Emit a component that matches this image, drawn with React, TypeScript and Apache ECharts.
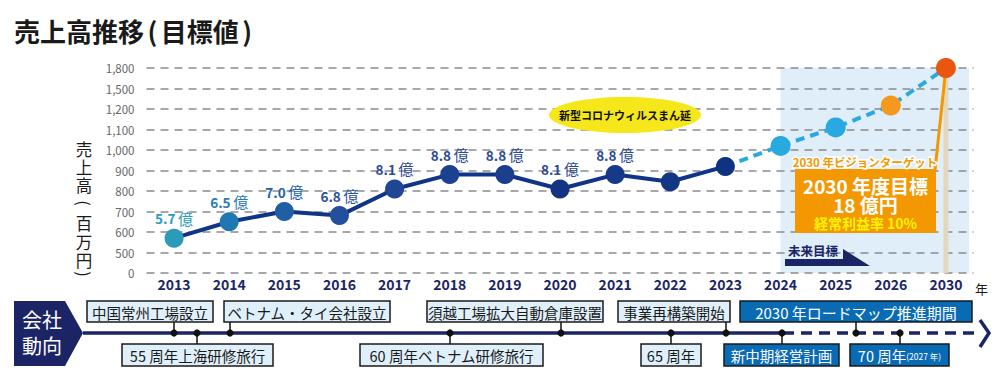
import { useEffect, useRef } from 'react';
import * as echarts from 'echarts';

const FONT = '"Noto Sans CJK JP", "Noto Sans", sans-serif';

const years = ['2013', '2014', '2015', '2016', '2017', '2018', '2019', '2020', '2021', '2022', '2023', '2024', '2025', '2026', '2030'];
// actual sales (million yen) 2013-2023
const actualSales = [570, 650, 700, 680, 810, 880, 880, 810, 880, 845, 920];
const labeledCount = 9; // first 9 points carry a "x.x 億" label
// target sales 2024, 2025, 2026, 2030
const targetSales = [1020, 1110, 1250, 1800];
const yTickValues = [0, 500, 600, 700, 800, 900, 1000, 1100, 1200, 1500, 1800];
const yTickLabels = ['0', '500', '600', '700', '800', '900', '1,000', '1,100', '1,200', '1,500', '1,800'];
const yAxisNameChars = ['売', '上', '高', '(', '百', '万', '円', ')'];

const eventsTop = ['中国常州工場設立', 'ベトナム・タイ会社設立', '須越工場拡大自動倉庫設置', '事業再構築開始', '2030 年ロードマップ推進期間'];
const eventsBottom = ['55 周年上海研修旅行', '60 周年ベトナム研修旅行', '65 周年', '新中期経営計画', '70 周年{s|(2027 年)}'];

function toAxis(v: number): number {
  for (let i = 0; i < yTickValues.length - 1; i++) {
    if (v <= yTickValues[i + 1]) {
      return i + (v - yTickValues[i]) / (yTickValues[i + 1] - yTickValues[i]);
    }
  }
  return yTickValues.length - 1;
}

export default function App() {
  const ref = useRef<HTMLDivElement>(null);
  useEffect(() => {
    document.body.style.margin = '0';
    const chart = echarts.init(ref.current!, null, { renderer: 'svg' });

    const pointColors = ['#2a9cb8', '#1f78b2', '#1f5fa6', '#244f9c', '#1f4693', '#1c4190', '#1b3e8d', '#133483', '#163a89', '#133685', '#0f3381'];
    const labelColors = ['#2a9cbc', '#2a7ab8', '#2360aa', '#2b52a0', '#2d4a95', '#2d4a95', '#2d4a95', '#2d4a95', '#2d4a95', '#2d4a95', '#2d4a95'];
    const targetColors = ['#2aa9e1', '#2aa9e1', '#f39a1e', '#e9560f'];

    const nA = actualSales.length;
    const actualData = actualSales.map((v, i) => ({
      value: toAxis(v),
      itemStyle: { color: pointColors[i] },
      label: { show: i < labeledCount, color: labelColors[i] },
    }));
    const targetData: any[] = years.map(() => null);
    targetData[nA - 1] = { value: toAxis(actualSales[nA - 1]), symbol: 'none' };
    targetSales.forEach((v, k) => {
      targetData[nA + k] = { value: toAxis(v), itemStyle: { color: targetColors[k] } };
    });
    const barData: any[] = years.map(() => null);
    barData[years.length - 1] = toAxis(targetSales[targetSales.length - 1]);

    chart.setOption({
      animation: false,
      textStyle: { fontFamily: FONT },
      grid: { left: 146.5, width: 827, top: 68, height: 205, containLabel: false, outerBoundsMode: 'none' },
      xAxis: {
        type: 'category',
        data: years,
        axisLine: { show: false },
        axisTick: { show: false },
        axisLabel: { color: '#1b2566', fontWeight: 'bold', fontSize: 14, margin: 4, fontFamily: FONT },
      },
      yAxis: {
        type: 'value',
        min: 0,
        max: yTickValues.length - 1,
        interval: 1,
        axisLine: { show: false },
        axisTick: { show: false },
        axisLabel: {
          color: '#666',
          fontSize: 11.5,
          margin: 12,
          fontFamily: FONT,
          formatter: (v: number) => yTickLabels[Math.round(v)] ?? '',
        },
        splitLine: { lineStyle: { type: [8, 6], color: '#8c8c8c', width: 1.5 } },
      },
      series: [
        {
          type: 'bar',
          data: barData,
          barWidth: 5,
          itemStyle: { color: '#e4d7bb' },
          z: 1,
          silent: true,
        },
        {
          type: 'line',
          data: targetData,
          symbol: 'circle',
          symbolSize: 20,
          connectNulls: false,
          lineStyle: { color: '#2aa8e0', width: 4, type: [9, 6] },
          z: 3,
        },
        {
          type: 'line',
          data: actualData,
          symbol: 'circle',
          symbolSize: 19,
          lineStyle: { color: '#0f3488', width: 4 },
          z: 4,
          label: {
            position: 'top',
            distance: 3,
            formatter: (p: any) => `{b|${(actualSales[p.dataIndex] / 100).toFixed(1)}} {n|億}`,
            rich: {
              b: { fontWeight: 'bold', fontSize: 13.5, fontFamily: FONT },
              n: { fontSize: 15, fontFamily: FONT },
            },
          },
        },
      ],
    });

    const px = (i: number, v: number) => chart.convertToPixel({ gridIndex: 0 }, [i, v]) as number[];
    const last = years.length - 1;
    const pStart = px(nA, yTickValues.length - 1);
    const pEnd = px(last, 0);
    const pPrev = px(last - 1, 0);
    const rightEdge = pEnd[0] + (pEnd[0] - pPrev[0]) * 0.42;
    const p2030 = px(last, toAxis(targetSales[targetSales.length - 1]));

    const navy = '#1b2566';
    const g: any[] = [];
    // future region
    g.push({
      type: 'rect', z: -1,
      shape: { x: pStart[0], y: pStart[1], width: rightEdge - pStart[0], height: pEnd[1] - pStart[1] },
      style: { fill: '#dfeef9' },
    });
    // connector from 2030 point to target box
    g.push({
      type: 'line', z: 2,
      shape: { x1: p2030[0], y1: p2030[1], x2: 935, y2: 170 },
      style: { stroke: '#f39800', lineWidth: 3 },
    });
    // title
    g.push({
      type: 'text', z: 10, x: 14, y: 30,
      style: {
        text: '売上高推移{p|(}目標値{p|)}', font: `bold 26px ${FONT}`, fill: '#1a1a1a', verticalAlign: 'middle',
        rich: { p: { fontSize: 26, fontWeight: 'bold', fontFamily: FONT, fill: '#1a1a1a', padding: [0, 3.5] } },
      },
    });
    // y axis name (vertical, one glyph per position)
    const yNameY = [149, 167, 185, 203, 223, 242, 260, 274];
    yAxisNameChars.forEach((ch, i) => {
      const isParen = ch === '(' || ch === ')';
      g.push({
        type: 'text', z: 10, x: 84, y: yNameY[i], rotation: isParen ? -Math.PI / 2 : 0,
        style: { text: ch, font: `16.5px ${FONT}`, fill: '#1a1a1a', align: 'center', verticalAlign: 'middle', lineHeight: 16 },
      });
    });
    // year suffix
    g.push({ type: 'text', z: 10, x: 975, y: 288, style: { text: '年', font: `13px ${FONT}`, fill: '#1a1a1a', align: 'left', verticalAlign: 'middle' } });
    // corona ellipse
    g.push({ type: 'ellipse', z: 10, shape: { cx: 625, cy: 115, rx: 76, ry: 18 }, style: { fill: '#f6e71b' } });
    g.push({ type: 'text', z: 11, x: 625, y: 115, style: { text: '新型コロナウィルスまん延', font: `bold 11px ${FONT}`, fill: '#111', align: 'center', verticalAlign: 'middle' } });
    // target box
    g.push({ type: 'text', z: 11, x: 865, y: 162, style: { text: '2030 年ビジョンターゲット', font: `bold 11.5px ${FONT}`, fill: '#f39800', stroke: '#fff', lineWidth: 3, align: 'center', verticalAlign: 'middle' } });
    g.push({ type: 'rect', z: 10, shape: { x: 795, y: 169, width: 141, height: 64 }, style: { fill: '#f39800' } });
    g.push({ type: 'text', z: 11, x: 865.5, y: 185, style: { text: '2030 年度目標', font: `bold 19px ${FONT}`, fill: '#fff', align: 'center', verticalAlign: 'middle' } });
    g.push({ type: 'text', z: 11, x: 865.5, y: 204, style: { text: '18 億円', font: `bold 19px ${FONT}`, fill: '#fff', align: 'center', verticalAlign: 'middle' } });
    g.push({ type: 'text', z: 11, x: 865.5, y: 223, style: { text: '経常利益率 10%', font: `bold 14px ${FONT}`, fill: '#fff200', align: 'center', verticalAlign: 'middle' } });
    // future arrow
    g.push({ type: 'text', z: 11, x: 813, y: 250, style: { text: '未来目標', font: `bold 12.5px ${FONT}`, fill: navy, align: 'center', verticalAlign: 'middle' } });
    g.push({ type: 'polygon', z: 10, shape: { points: [[785, 259], [843, 259], [843, 249], [870, 266], [785, 266]] }, style: { fill: navy } });

    // timeline
    const lineY = 333;
    g.push({ type: 'polygon', z: 10, shape: { points: [[14, 301], [65, 301], [83, lineY], [65, 366], [14, 366]] }, style: { fill: navy } });
    g.push({ type: 'text', z: 11, x: 42, y: 319, style: { text: '会社', font: `20px ${FONT}`, fill: '#fff', align: 'center', verticalAlign: 'middle' } });
    g.push({ type: 'text', z: 11, x: 42, y: 345, style: { text: '動向', font: `20px ${FONT}`, fill: '#fff', align: 'center', verticalAlign: 'middle' } });
    g.push({ type: 'line', z: 10, shape: { x1: 83, y1: lineY, x2: 783, y2: lineY }, style: { stroke: navy, lineWidth: 3.5 } });
    g.push({ type: 'line', z: 10, shape: { x1: 783, y1: lineY, x2: 976, y2: lineY }, style: { stroke: navy, lineWidth: 3.5, lineDash: [11, 7] } });
    g.push({ type: 'polyline', z: 10, shape: { points: [[980, 320], [989, lineY], [980, 347]] }, style: { stroke: navy, lineWidth: 3.5, fill: null } });

    const topLayout = [[87, 213, 174], [224, 390, 230], [427, 603, 561], [618, 730, 726], [740, 972, 856]];
    const bottomLayout = [[122, 273, 197], [360, 543, 450], [641, 701, 671], [724, 839, 782], [850, 949, 900]];
    const topBlue = [false, false, false, false, true];
    const bottomBlue = [false, false, false, true, true];

    const addBox = (text: string, lay: number[], blue: boolean, top: boolean, big: boolean) => {
      const [x0, x1, dx] = lay;
      const y0 = top ? 301 : 344;
      const h = top ? 21 : 22;
      g.push({ type: 'line', z: 10, shape: { x1: dx, y1: lineY, x2: dx, y2: top ? y0 + h : y0 }, style: { stroke: '#111', lineWidth: 1.5 } });
      g.push({ type: 'circle', z: 12, shape: { cx: dx, cy: lineY, r: 3.6 }, style: { fill: '#111' } });
      g.push({
        type: 'rect', z: 11,
        shape: { x: x0, y: y0, width: x1 - x0, height: h },
        style: { fill: blue ? '#0a6bb5' : '#e0f0fa', stroke: '#1a1a1a', lineWidth: 1.5 },
      });
      g.push({
        type: 'text', z: 12, x: (x0 + x1) / 2, y: y0 + h / 2 + 0.5,
        style: {
          text, font: `${big ? 15 : 14.5}px ${FONT}`, fill: blue ? '#fff' : '#1a1a1a',
          align: 'center', verticalAlign: 'middle',
          rich: { s: { fontSize: 8.5, fontFamily: FONT, fill: '#fff' } },
        },
      });
    };
    eventsTop.forEach((t, i) => addBox(t, topLayout[i], topBlue[i], true, i === 4));
    eventsBottom.forEach((t, i) => addBox(t, bottomLayout[i], bottomBlue[i], false, false));

    chart.setOption({ graphic: g });
    return () => chart.dispose();
  }, []);
  return <div ref={ref} style={{ width: 1000, height: 373 }} />;
}
